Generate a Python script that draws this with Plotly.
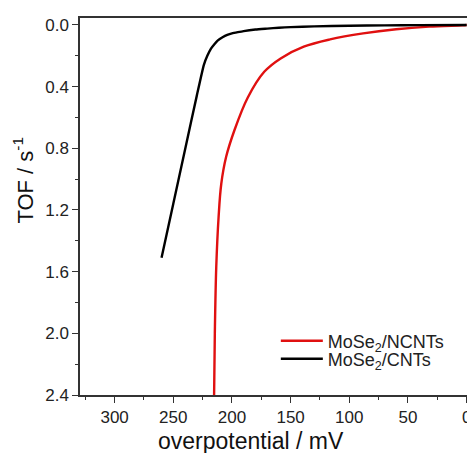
import plotly.graph_objects as go

# overpotential (mV) and TOF (s^-1)
cnt_x = [260, 250, 240, 230, 224, 221, 218, 215, 212, 208, 204, 200, 195, 190, 180, 170, 160, 150, 130, 100, 70, 40, 0]
cnt_y = [1.51, 1.16, 0.81, 0.46, 0.26, 0.20, 0.155, 0.125, 0.10, 0.08, 0.065, 0.055, 0.047, 0.04, 0.03, 0.024, 0.018, 0.014, 0.009, 0.005, 0.003, 0.001, 0.0]

ncnt_x = [215.3, 214.6, 213.4, 211.4, 209.1, 205.0, 197.9, 186.6, 172.5, 158.5, 138.8, 116.4, 88.2, 60.1, 32.0, 3.6, 0]
ncnt_y = [2.45, 2.0, 1.573, 1.247, 1.030, 0.857, 0.683, 0.472, 0.304, 0.217, 0.141, 0.094, 0.055, 0.028, 0.011, 0.002, 0.0]

x_ticks = [300, 250, 200, 150, 100, 50, 0]
y_ticks = [0.0, 0.4, 0.8, 1.2, 1.6, 2.0, 2.4]

FONT = "Liberation Sans, Arial, sans-serif"

fig = go.Figure()
fig.add_trace(go.Scatter(x=ncnt_x, y=ncnt_y, mode="lines", name="MoSe<sub>2</sub>/NCNTs", legend="legend",
                         line=dict(color="#e01010", width=2.4, shape="spline", smoothing=1.0)))
fig.add_trace(go.Scatter(x=cnt_x, y=cnt_y, mode="lines", name="MoSe<sub>2</sub>/CNTs", legend="legend2",
                         line=dict(color="#000000", width=2.4, shape="spline", smoothing=0.5)))

axis_common = dict(showline=True, linecolor="#333333", linewidth=1.5, mirror=True,
                   showgrid=False, zeroline=False, ticks="outside", ticklen=6, tickwidth=1.3,
                   tickcolor="#333333", tickfont=dict(family=FONT, size=17, color="#222222"))

fig.update_xaxes(range=[329.5, -0.3], tickvals=x_ticks,
                 minor=dict(dtick=25, ticks="outside", ticklen=3.5, tickwidth=1.3, tickcolor="#333333"),
                 **axis_common)
fig.update_yaxes(range=[2.4, -0.045], tickvals=y_ticks, tickformat=".1f",
                 minor=dict(dtick=0.2, ticks="outside", ticklen=3.5, tickwidth=1.3, tickcolor="#333333"),
                 **axis_common)

fig.add_annotation(text="overpotential / mV", xref="paper", yref="paper", x=0.442, y=-0.122,
                   xanchor="center", yanchor="middle", showarrow=False,
                   font=dict(family=FONT, size=23, color="#111111"))
fig.add_annotation(text="TOF / s<sup>-1</sup>", xref="paper", yref="paper", x=-0.146, y=0.57,
                   xanchor="center", yanchor="middle", showarrow=False, textangle=-90,
                   font=dict(family=FONT, size=22, color="#111111"))

leg_common = dict(xanchor="left", yanchor="middle", bgcolor="rgba(0,0,0,0)", borderwidth=0,
                  itemwidth=42, font=dict(family=FONT, size=18, color="#222222"))

fig.update_layout(
    width=467, height=445,
    margin=dict(l=72, r=4, t=10, b=58),
    paper_bgcolor="white", plot_bgcolor="white",
    showlegend=True,
    legend=dict(x=0.506, y=0.143, **leg_common),
    legend2=dict(x=0.506, y=0.0955, **leg_common),
)

fig.write_html("out.html")
